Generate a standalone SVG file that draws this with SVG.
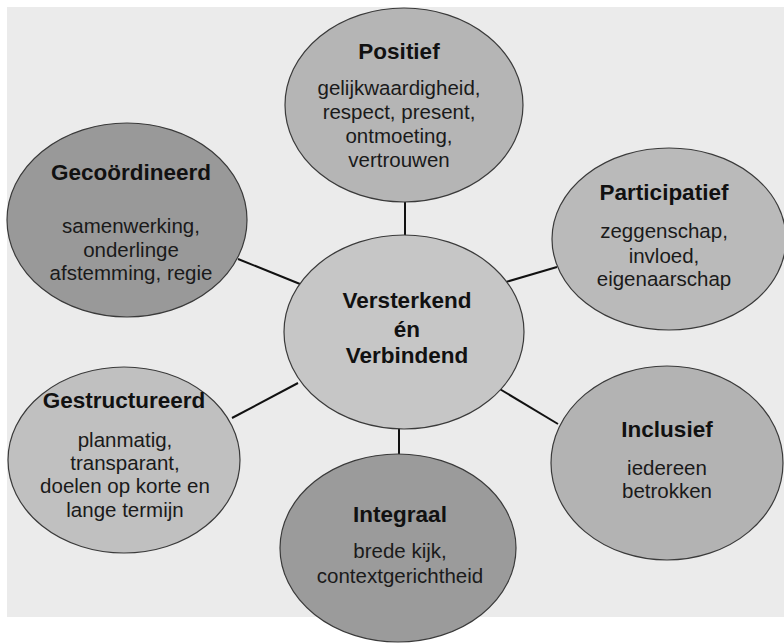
<svg xmlns="http://www.w3.org/2000/svg" width="784" height="643" viewBox="0 0 784 643">
<style>
.node ellipse{stroke:#3a3a3a;stroke-width:1.2}
.t{font-family:"Liberation Sans",Arial,sans-serif;font-size:22.5px;font-weight:bold;fill:#111;text-anchor:middle}
.b{font-family:"Liberation Sans",Arial,sans-serif;font-size:20.5px;fill:#1a1a1a;text-anchor:middle}
.conn line{stroke:#111;stroke-width:2}
</style>
<rect x="0" y="0" width="784" height="643" fill="#ffffff"/>
<rect x="7" y="7" width="777" height="610" fill="#ebebeb"/>
<g id="connectors" class="conn">
<line x1="405" y1="202" x2="405" y2="236"/>
<line x1="238" y1="259" x2="300" y2="284"/>
<line x1="506" y1="282" x2="557" y2="267"/>
<line x1="232" y1="418" x2="298" y2="383"/>
<line x1="399" y1="428" x2="399" y2="454"/>
<line x1="498" y1="388" x2="558" y2="424"/>
</g>
<g id="positief" class="node">
<ellipse cx="404" cy="105" rx="119" ry="97" fill="#b5b5b5"/>
<text class="t" x="399" y="59">Positief</text>
<text class="b" x="399" y="95">gelijkwaardigheid,</text>
<text class="b" x="399" y="119">respect, present,</text>
<text class="b" x="399" y="143">ontmoeting,</text>
<text class="b" x="399" y="167">vertrouwen</text>
</g>
<g id="gecoordineerd" class="node">
<ellipse cx="127" cy="220" rx="120" ry="97" fill="#999999"/>
<text class="t" x="131" y="180">Gecoördineerd</text>
<text class="b" x="131" y="233">samenwerking,</text>
<text class="b" x="131" y="257">onderlinge</text>
<text class="b" x="131" y="280">afstemming, regie</text>
</g>
<g id="participatief" class="node">
<ellipse cx="669" cy="239" rx="117" ry="91" fill="#bababa"/>
<text class="t" x="664" y="200">Participatief</text>
<text class="b" x="664" y="238">zeggenschap,</text>
<text class="b" x="664" y="263">invloed,</text>
<text class="b" x="664" y="286">eigenaarschap</text>
</g>
<g id="centrum" class="node">
<ellipse cx="404" cy="332" rx="120" ry="97" fill="#c6c6c6"/>
<text class="t" x="407" y="308">Versterkend</text>
<text class="t" x="407" y="337">én</text>
<text class="t" x="407" y="363">Verbindend</text>
</g>
<g id="gestructureerd" class="node">
<ellipse cx="124" cy="460" rx="116" ry="93" fill="#c0c0c0"/>
<text class="t" x="124" y="408">Gestructureerd</text>
<text class="b" x="125" y="447">planmatig,</text>
<text class="b" x="125" y="470">transparant,</text>
<text class="b" x="125" y="493">doelen op korte en</text>
<text class="b" x="125" y="517">lange termijn</text>
</g>
<g id="integraal" class="node">
<ellipse cx="398" cy="548" rx="118" ry="94" fill="#9b9b9b"/>
<text class="t" x="400" y="522">Integraal</text>
<text class="b" x="400" y="558">brede kijk,</text>
<text class="b" x="400" y="583">contextgerichtheid</text>
</g>
<g id="inclusief" class="node">
<ellipse cx="667" cy="463" rx="116" ry="97" fill="#b3b3b3"/>
<text class="t" x="667" y="437">Inclusief</text>
<text class="b" x="667" y="475">iedereen</text>
<text class="b" x="667" y="498">betrokken</text>
</g>
</svg>
